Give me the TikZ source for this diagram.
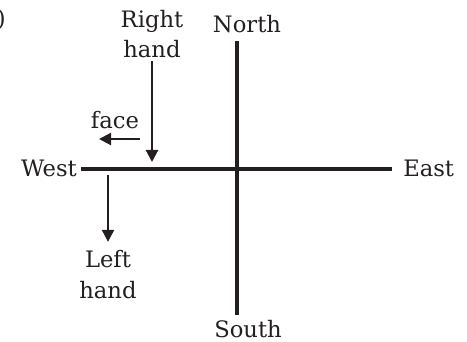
\documentclass[tikz,border=0pt]{standalone}
\usepackage{fontspec}
\setmainfont{DejaVu Serif}
\usetikzlibrary{arrows.meta,positioning}
\definecolor{ink}{RGB}{35,31,32}

\begin{document}
\begin{tikzpicture}[x=0.75pt,y=-0.75pt,
  lbl/.style={text=ink,font=\fontsize{17}{23}\selectfont,inner sep=0pt,align=center},
  axis/.style={draw=ink,line width=2.4pt},
  arr/.style={-{Triangle[length=9pt,width=9pt]},draw=ink,line width=1.6pt}
]
\useasboundingbox (0,0) rectangle (467,342);
% direction labels
\node[lbl,anchor=base] (north) at (247,33) {North};
\node[lbl,anchor=base] (south) at (248,337) {South};
\node[lbl,anchor=base west] (east) at (403,176) {East};
\node[lbl,anchor=base east] (west) at (77,176) {West};
\node[lbl,anchor=base east] (paren) at (6,27) {)};
% hands and face
\node[lbl,anchor=base] (rhand) at (152,58) {Right\\hand};
\node[lbl,anchor=base] (lhand) at (108,298) {Left\\hand};
\node[lbl,anchor=base] (face) at (115,128) {face};
% line ends
\coordinate (ntop) at (237,41);
\coordinate (sbot) at (237,315);
\coordinate (wend) at (81,169);
\coordinate (eend) at (392,169);
\coordinate (rtip) at (152,162);
\coordinate (ltop) at (108,175);
\coordinate (fstart) at (140,139);
\coordinate (ftip) at (99,139);
\draw[axis] (ntop) -- (sbot);
\draw[axis] (wend) -- (eend);
\draw[arr] ([yshift=-2pt]rhand.south) -- (rtip);
\draw[arr] (ltop) -- ([yshift=6pt]lhand.north);
\draw[arr] (fstart) -- (ftip);
\end{tikzpicture}
\end{document}
